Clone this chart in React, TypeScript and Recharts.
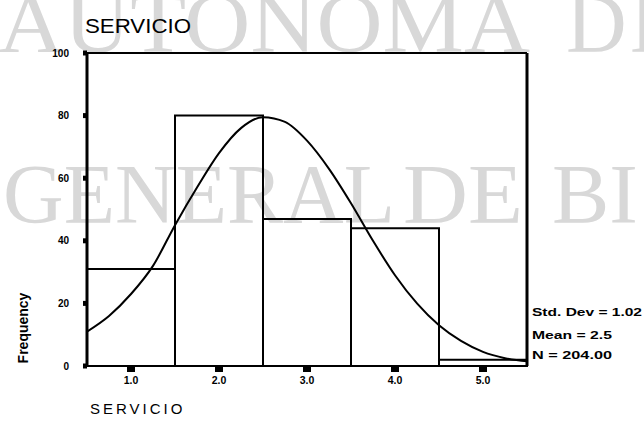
import React from "react";
import {
  ComposedChart,
  Bar,
  Line,
  XAxis,
  YAxis,
  ReferenceLine,
} from "recharts";

// Histogram bins (SERVICIO value) and frequencies
const binLabels = ["1.0", "2.0", "3.0", "4.0", "5.0"];
const binCounts = [31, 80, 47, 44, 2];

// Normal curve
const curveX = [0.5, 0.75, 1.0, 1.25, 1.5, 1.75, 2.0, 2.25, 2.5, 2.75, 3.0, 3.25, 3.5, 3.75, 4.0, 4.25, 4.5, 4.75, 5.0, 5.25, 5.5];
const curveY = [11, 16, 23, 32, 45, 57, 68, 76, 79.5, 78, 72, 63, 52, 40, 29, 20, 13, 8, 4.5, 2.5, 1.5];

const yTicks = [0, 20, 40, 60, 80, 100];
const statLines = ["Std. Dev = 1.02", "Mean = 2.5", "N = 204.00"];
const watermarkRow1 = ["AUTONOMA", "D", "E"];
const watermarkRow2 = ["GENERAL", "DE", "BI"];

const barData = binLabels.map((label, i) => ({ label, count: binCounts[i] }));
const curveData = curveX.map((x, i) => ({ x, freq: curveY[i] }));

const W = 644;
const H = 428;
const sans = "'Liberation Sans', Arial, sans-serif";
const serif = "'Liberation Serif', 'Times New Roman', serif";

export default function App() {
  return (
    <div style={{ position: "absolute", left: 0, top: 0, width: W, height: H, background: "#fff" }}>
      {/* watermark behind */}
      <svg width={W} height={H} style={{ position: "absolute", left: 0, top: 0 }}>
        <g fill="#d8d8d8" fontFamily={serif} fontSize={84}>
          <text x={-2} y={52} textLength={532} lengthAdjust="spacingAndGlyphs">{watermarkRow1[0]}</text>
          <text x={566} y={52}>{watermarkRow1[1]}</text>
          <text x={630} y={52}>{watermarkRow1[2]}</text>
          <text x={3} y={223} textLength={392} lengthAdjust="spacingAndGlyphs">{watermarkRow2[0]}</text>
          <text x={403} y={223} textLength={120} lengthAdjust="spacingAndGlyphs">{watermarkRow2[1]}</text>
          <text x={552} y={223} textLength={86} lengthAdjust="spacingAndGlyphs">{watermarkRow2[2]}</text>
        </g>
      </svg>
      <div style={{ position: "absolute", left: 0, top: 0 }}>
        <ComposedChart
          width={W}
          height={H}
          data={barData}
          margin={{ top: 53, right: 117, bottom: 61, left: 86 }}
          barCategoryGap={0}
          barGap={0}
        >
          <XAxis
            xAxisId="bins"
            dataKey="label"
            type="category"
            height={1}
            padding={{ left: 0, right: 0 }}
            axisLine={{ stroke: "#000", strokeWidth: 2 }}
            tickLine={{ stroke: "#000", strokeWidth: 8 }}
            tickSize={6}
            tickMargin={5}
            tick={{ fill: "#000", fontSize: 10.5, fontWeight: 700, fontFamily: sans }}
          />
          <XAxis
            xAxisId="curve"
            dataKey="x"
            type="number"
            domain={[0.5, 5.5]}
            allowDataOverflow
            hide
          />
          <YAxis
            type="number"
            domain={[0, 100]}
            ticks={yTicks}
            width={1}
            axisLine={{ stroke: "#000", strokeWidth: 3 }}
            tickLine={{ stroke: "#000", strokeWidth: 5 }}
            tickSize={4}
            tickMargin={14}
            tick={{ fill: "#000", fontSize: 10, fontWeight: 700, fontFamily: sans }}
          />
          <ReferenceLine xAxisId="curve" y={100} stroke="#000" strokeWidth={2} />
          <ReferenceLine xAxisId="curve" x={5.5} stroke="#000" strokeWidth={3} />
          <Bar
            xAxisId="bins"
            dataKey="count"
            fill="none"
            stroke="#000"
            strokeWidth={2}
            isAnimationActive={false}
          />
          <Line
            xAxisId="curve"
            data={curveData}
            dataKey="freq"
            type="monotone"
            stroke="#000"
            strokeWidth={2}
            dot={false}
            isAnimationActive={false}
          />
        </ComposedChart>
      </div>
      {/* labels on top */}
      <svg width={W} height={H} style={{ position: "absolute", left: 0, top: 0, pointerEvents: "none" }}>
        <text x={85} y={33} fontFamily={sans} fontSize={21} textLength={106} lengthAdjust="spacingAndGlyphs" fill="#000">SERVICIO</text>
        <text x={90} y={414} fontFamily={sans} fontSize={15} letterSpacing={3} fill="#000">SERVICIO</text>
        <text
          x={0}
          y={0}
          transform="translate(28,328) rotate(-90)"
          textAnchor="middle"
          fontFamily={sans}
          fontSize={14}
          fontWeight={700}
          fill="#000"
        >
          Frequency
        </text>
        {statLines.map((s, i) => (
          <text
            key={s}
            x={532}
            y={[316, 339, 359][i]}
            fontFamily={sans}
            fontSize={11.5}
            fontWeight={700}
            textLength={[110, 80, 80][i]}
            lengthAdjust="spacingAndGlyphs"
            fill="#000"
          >
            {s}
          </text>
        ))}
      </svg>
    </div>
  );
}
